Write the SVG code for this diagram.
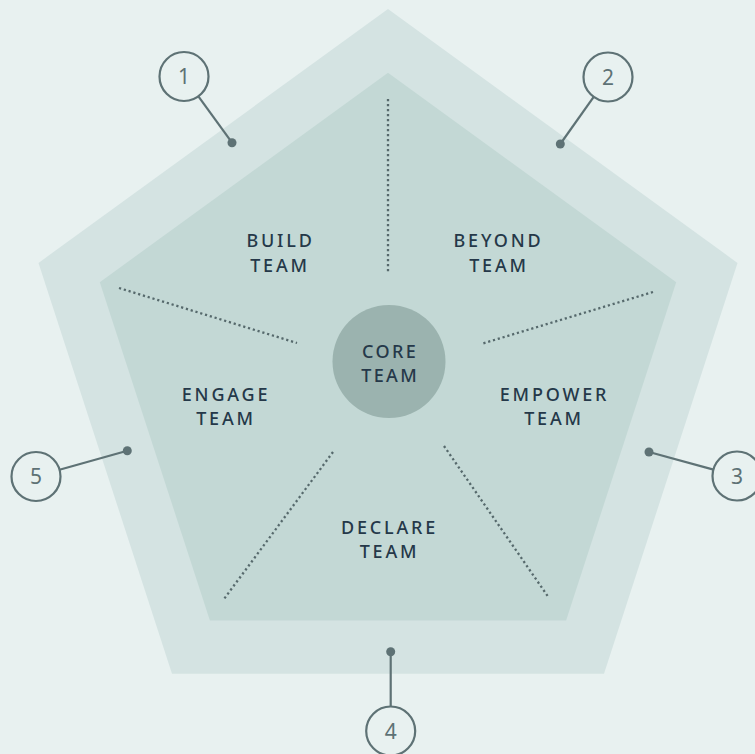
<svg xmlns="http://www.w3.org/2000/svg" width="755" height="754" viewBox="0 0 755 754">
<style>
.lbl{font-family:"Noto Sans","Open Sans",sans-serif;font-size:18px;font-weight:500;fill:#253849;letter-spacing:2.8px;text-anchor:middle}
.core{letter-spacing:2.4px}
.num{font-family:"Noto Sans","Open Sans",sans-serif;font-size:21px;fill:#5e7275;text-anchor:middle}
.ring{fill:none;stroke:#5e7275;stroke-width:2.2}
.lead{stroke:#5e7275;stroke-width:2.2;fill:none}
.dotend{fill:#5e7275}
.dots{stroke:#56696c;stroke-width:2.3;stroke-dasharray:2.2 2.8;fill:none}
</style>
<rect width="755" height="754" fill="#e8f1f0"/>
<g id="outer-pentagon">
<polygon points="388,9 737.5,262.9 604,673.8 172,673.8 38.5,262.9" fill="#d4e3e2"/>
</g>
<g id="inner-pentagon">
<polygon points="388,72.8 676.2,282.2 566.1,620.5 209.9,620.5 99.8,282.2" fill="#c3d8d5"/>
</g>
<g id="dividers">
<line class="dots" x1="388" y1="99" x2="388" y2="272"/>
<line class="dots" x1="119" y1="288" x2="297" y2="343"/>
<line class="dots" x1="653" y1="292" x2="481" y2="344"/>
<line class="dots" x1="333" y1="452" x2="224" y2="599"/>
<line class="dots" x1="444" y1="446" x2="549" y2="598"/>
</g>
<g id="core">
<circle cx="389" cy="361.5" r="56.5" fill="#9bb3af"/>
<text class="lbl core" x="390.2" y="358">CORE</text>
<text class="lbl core" x="390.2" y="382">TEAM</text>
</g>
<g id="build">
<text class="lbl" x="280.5" y="247.3">BUILD</text>
<text class="lbl" x="280" y="271.7">TEAM</text>
</g>
<g id="beyond">
<text class="lbl" x="498.5" y="247.3">BEYOND</text>
<text class="lbl" x="499" y="271.7">TEAM</text>
</g>
<g id="engage">
<text class="lbl" x="226" y="401">ENGAGE</text>
<text class="lbl" x="226" y="424.5">TEAM</text>
</g>
<g id="empower">
<text class="lbl" x="554.5" y="401">EMPOWER</text>
<text class="lbl" x="554" y="424.5">TEAM</text>
</g>
<g id="declare">
<text class="lbl" x="389.5" y="534.3">DECLARE</text>
<text class="lbl" x="389.5" y="558.3">TEAM</text>
</g>
<g id="connectors">
<line class="lead" x1="198.4" y1="96.3" x2="232" y2="142.7"/>
<circle class="dotend" cx="232" cy="142.7" r="4.5"/>
<line class="lead" x1="593.7" y1="96.9" x2="560.3" y2="144"/>
<circle class="dotend" cx="560.3" cy="144" r="4.5"/>
<line class="lead" x1="713.5" y1="469.6" x2="649" y2="452"/>
<circle class="dotend" cx="649" cy="452" r="4.5"/>
<line class="lead" x1="390.7" y1="706.5" x2="390.7" y2="651.7"/>
<circle class="dotend" cx="390.7" cy="651.7" r="4.5"/>
<line class="lead" x1="59.5" y1="469.8" x2="127.3" y2="450.7"/>
<circle class="dotend" cx="127.3" cy="450.7" r="4.5"/>
</g>
<g id="n1">
<circle class="ring" cx="184" cy="76.5" r="24.5"/>
<text class="num" x="184" y="84">1</text>
</g>
<g id="n2">
<circle class="ring" cx="608" cy="77" r="24.5"/>
<text class="num" x="608" y="84.5">2</text>
</g>
<g id="n3">
<circle class="ring" cx="737" cy="476" r="24.5"/>
<text class="num" x="737" y="483.5">3</text>
</g>
<g id="n4">
<circle class="ring" cx="390.7" cy="731" r="24.5"/>
<text class="num" x="390.7" y="738.5">4</text>
</g>
<g id="n5">
<circle class="ring" cx="36" cy="476.5" r="24.5"/>
<text class="num" x="36" y="484">5</text>
</g>
</svg>
